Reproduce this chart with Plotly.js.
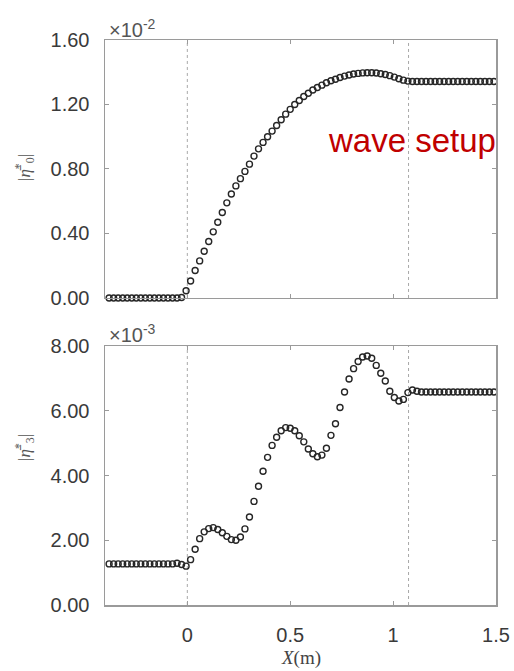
<!DOCTYPE html>
<html>
<head>
<meta charset="utf-8">
<script src="https://cdn.plot.ly/plotly-3.0.1.min.js"></script>
<style>
  html, body { margin: 0; padding: 0; background: #fff; }
  #chart { width: 514px; height: 671px; }
</style>
</head>
<body>
<div id="chart"></div>
<script>
// Sampling positions along the flume, X in metres
const xPos = [
  -0.380, -0.358, -0.336, -0.314, -0.292, -0.270, -0.248, -0.226, -0.204, -0.182,
  -0.160, -0.138, -0.116, -0.094, -0.072, -0.050, -0.028, -0.006, 0.016, 0.038,
  0.060, 0.082, 0.104, 0.126, 0.148, 0.170, 0.192, 0.214, 0.236, 0.258,
  0.280, 0.302, 0.324, 0.346, 0.368, 0.390, 0.412, 0.434, 0.456, 0.478,
  0.500, 0.522, 0.544, 0.566, 0.588, 0.610, 0.632, 0.654, 0.676, 0.698,
  0.720, 0.742, 0.764, 0.786, 0.808, 0.830, 0.852, 0.874, 0.896, 0.918,
  0.940, 0.962, 0.984, 1.006, 1.028, 1.050, 1.072, 1.094, 1.116, 1.138,
  1.160, 1.182, 1.204, 1.226, 1.248, 1.270, 1.292, 1.314, 1.336, 1.358,
  1.380, 1.402, 1.424, 1.446, 1.468, 1.490
];

// Mean water level |eta_0| (units of 1e-2)
const eta0 = [
  0, 0, 0, 0, 0, 0, 0, 0, 0, 0,
  0, 0, 0, 0, 0, 0, 0.003, 0.045, 0.105, 0.17,
  0.23, 0.29, 0.35, 0.41, 0.47, 0.53, 0.59, 0.645, 0.695, 0.74,
  0.785, 0.83, 0.88, 0.925, 0.965, 1.0, 1.035, 1.07, 1.105, 1.14,
  1.17, 1.2, 1.225, 1.25, 1.27, 1.29, 1.305, 1.32, 1.335, 1.347,
  1.357, 1.367, 1.376, 1.383, 1.389, 1.393, 1.396, 1.397, 1.397, 1.395,
  1.391, 1.386, 1.379, 1.37, 1.36, 1.351, 1.345, 1.343, 1.343, 1.343,
  1.343, 1.343, 1.343, 1.343, 1.343, 1.343, 1.343, 1.343, 1.343, 1.343,
  1.343, 1.343, 1.343, 1.343, 1.343, 1.343
];

// Third harmonic amplitude |eta_3| (units of 1e-3)
const eta3 = [
  1.27, 1.27, 1.27, 1.27, 1.27, 1.27, 1.27, 1.27, 1.27, 1.27,
  1.27, 1.27, 1.27, 1.27, 1.27, 1.29, 1.25, 1.2, 1.4, 1.72,
  2.05, 2.26, 2.36, 2.39, 2.33, 2.23, 2.12, 2.02, 2.0, 2.1,
  2.35, 2.72, 3.2, 3.67, 4.13, 4.56, 4.93, 5.18, 5.38, 5.48,
  5.46, 5.38, 5.23, 5.04, 4.82, 4.67, 4.58, 4.63, 4.84, 5.24,
  5.6, 6.1, 6.58, 6.98, 7.3, 7.52, 7.66, 7.69, 7.62, 7.4,
  7.16, 6.92, 6.6, 6.41, 6.3, 6.35, 6.56, 6.64, 6.6, 6.58,
  6.58, 6.58, 6.58, 6.58, 6.58, 6.58, 6.58, 6.58, 6.58, 6.58,
  6.58, 6.58, 6.58, 6.58, 6.58, 6.58
];

// Slope toe and end of slope
const slopeMarks = [0, 1.075];

const xTickVals = [0, 0.5, 1, 1.5];
const xTickText = ['0', '0.5', '1', '1.5'];
const y0TickVals = [0, 0.4, 0.8, 1.2, 1.6];
const y3TickVals = [0, 2, 4, 6, 8];

const sans = '"Liberation Sans", Arial, Helvetica, sans-serif';
const serif = '"Liberation Serif", "DejaVu Serif", serif';
const frame = '#9a9a9a';

const markerStyle = {
  symbol: 'circle-open',
  size: 6,
  color: '#262626',
  line: { width: 1.4, color: '#262626' }
};

const traces = [
  { x: xPos, y: eta0, xaxis: 'x', yaxis: 'y', type: 'scatter', mode: 'markers',
    marker: markerStyle, cliponaxis: false, hoverinfo: 'x+y' },
  { x: xPos, y: eta3, xaxis: 'x2', yaxis: 'y2', type: 'scatter', mode: 'markers',
    marker: markerStyle, cliponaxis: false, hoverinfo: 'x+y' }
];

const axisCommon = {
  showline: true, linecolor: frame, linewidth: 1.5, mirror: 'ticks',
  ticks: 'inside', ticklen: 4, tickwidth: 1, tickcolor: frame,
  showgrid: false, zeroline: false,
  tickfont: { family: sans, size: 20, color: '#3a3a3a' }
};

const shapes = [];
slopeMarks.forEach(xv => {
  ['y domain', 'y2 domain'].forEach((yr, k) => {
    shapes.push({
      type: 'line', xref: k === 0 ? 'x' : 'x2', yref: yr,
      x0: xv, x1: xv, y0: 0, y1: 1,
      line: { color: '#a8a8a8', width: 1, dash: 'dot' }, layer: 'below'
    });
  });
});

const layout = {
  width: 514, height: 671,
  margin: { l: 105, r: 18, t: 40, b: 66 },
  paper_bgcolor: '#fff', plot_bgcolor: '#fff',
  showlegend: false,
  xaxis: Object.assign({}, axisCommon, {
    domain: [0, 1], anchor: 'y', range: [-0.4, 1.5],
    tickvals: xTickVals, showticklabels: false
  }),
  yaxis: Object.assign({}, axisCommon, {
    domain: [0.5434, 1], anchor: 'x', range: [0, 1.6],
    tickvals: y0TickVals, tickformat: '.2f', ticklabelstandoff: 10
  }),
  xaxis2: Object.assign({}, axisCommon, {
    domain: [0, 1], anchor: 'y2', range: [-0.4, 1.5],
    tickvals: xTickVals, ticktext: xTickText, ticklabelstandoff: 11
  }),
  yaxis2: Object.assign({}, axisCommon, {
    domain: [0, 0.4584], anchor: 'x2', range: [0, 8],
    tickvals: y3TickVals, tickformat: '.2f', ticklabelstandoff: 10
  }),
  shapes: shapes,
  annotations: [
    { xref: 'paper', yref: 'paper', x: 0, y: 1.021, xanchor: 'left', yanchor: 'middle',
      xshift: 2, showarrow: false, text: '×10<sup>-2</sup>',
      font: { family: sans, size: 20, color: '#555' } },
    { xref: 'paper', yref: 'paper', x: 0, y: 0.4814, xanchor: 'left', yanchor: 'middle',
      xshift: 2, showarrow: false, text: '×10<sup>-3</sup>',
      font: { family: sans, size: 20, color: '#555' } },
    { xref: 'paper', yref: 'paper', x: -0.2046, y: 0.7735, xanchor: 'center', yanchor: 'middle',
      textangle: -90, showarrow: false, text: '|<i>η̄</i><sup>*</sup><sub>0</sub>|',
      font: { family: serif, size: 17, color: '#555' } },
    { xref: 'paper', yref: 'paper', x: -0.2046, y: 0.278, xanchor: 'center', yanchor: 'middle',
      textangle: -90, showarrow: false, text: '|<i>η̄</i><sup>*</sup><sub>3</sub>|',
      font: { family: serif, size: 17, color: '#555' } },
    { xref: 'paper', yref: 'paper', x: 0.501, y: -0.0935, xanchor: 'center', yanchor: 'middle',
      showarrow: false, text: '<i>X</i>(m)',
      font: { family: serif, size: 19, color: '#444' } },
    { xref: 'paper', yref: 'paper', x: 0.785, y: 0.823, xanchor: 'center', yanchor: 'middle',
      showarrow: false, text: 'wave setup',
      font: { family: sans, size: 33, color: '#c00000' } }
  ]
};

Plotly.newPlot('chart', traces, layout, { displayModeBar: false, staticPlot: true });
</script>
</body>
</html>
